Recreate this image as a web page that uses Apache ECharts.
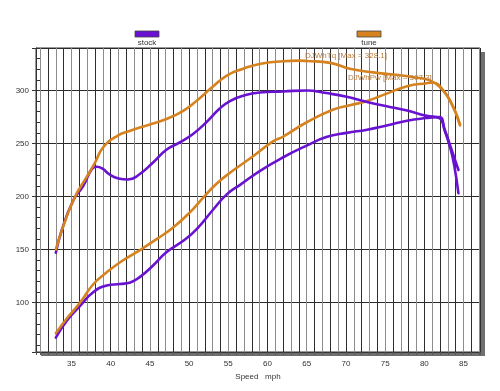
<!DOCTYPE html>
<html>
<head>
<meta charset="utf-8">
<script src="https://cdn.jsdelivr.net/npm/echarts@6/dist/echarts.min.js"></script>
<style>
html,body{margin:0;padding:0;background:#fff;}
#c{width:500px;height:391px;}
</style>
</head>
<body>
<div id="c"></div>
<script>
// ---- data ----
const legendNames = ['stock', 'tune'];
const xLabelValues = [35, 40, 45, 50, 55, 60, 65, 70, 75, 80, 85];
const yLabelValues = [100, 150, 200, 250, 300];

const stockTqSpeed = [33.0, 33.7, 35.2, 36.5, 37.6, 38.2, 39.0, 39.8, 41.0, 42.2, 43.5, 45.4, 47.1, 48.8, 50.5, 52.2, 53.9, 55.2, 56.9, 59.0, 62.0, 65.0, 67.5, 70.1, 72.7, 75.2, 77.8, 80.3, 81.9, 82.6, 83.3, 83.8, 84.35];
const stockTq      = [147, 167, 196, 210, 226, 228, 226, 221, 217, 216, 220, 232, 244, 251, 259, 270, 283, 290, 295, 298, 299, 300, 297.5, 294, 289, 285, 281, 276, 274, 262, 246, 230, 203];

const stockPwSpeed = [33.0, 34.4, 36.1, 37.8, 39.5, 41.2, 42.5, 43.7, 45.4, 47.1, 49.3, 51.0, 53.1, 54.8, 56.5, 59.0, 62.0, 65.0, 67.5, 70.1, 72.7, 75.2, 77.8, 80.3, 81.9, 82.6, 83.3, 83.8, 84.35];
const stockPw      = [67, 83, 97, 110, 116, 117.5, 119, 124, 135, 147.5, 158.5, 169.5, 188, 202, 211, 224, 237, 248, 256, 260, 263, 267, 271.5, 274, 275, 263, 248, 237, 225];

const tuneTqSpeed = [33.0, 33.9, 35.4, 36.9, 38.0, 39.0, 40.8, 42.5, 44.6, 47.1, 49.3, 51.0, 52.7, 54.8, 56.9, 59.0, 62.0, 64.0, 65.0, 68.0, 70.5, 73.5, 76.0, 78.6, 80.7, 82.0, 83.3, 84.55];
const tuneTq      = [150, 171, 199, 218, 232, 246, 257, 262, 267, 273, 281, 290.5, 301.5, 314, 320.5, 325, 327.5, 328.1, 327.8, 326, 320.5, 317, 315, 312.5, 309.5, 303, 290.5, 267];

const tunePwSpeed = [33.0, 34.4, 36.1, 37.8, 39.5, 41.2, 43.3, 45.9, 48.0, 50.1, 51.8, 53.5, 55.6, 57.8, 60.7, 62.0, 65.0, 68.4, 70.5, 72.7, 75.2, 77.8, 80.3, 81.1, 82.4, 83.7, 84.55];
const tunePw      = [71, 85, 100, 117.5, 128.5, 138, 147.5, 160, 171, 185, 199, 212, 224.5, 236, 252, 256.5, 270, 282, 286, 290, 297, 304, 306.8, 307.3, 300, 284, 268];

const annotTq = 'DJWhTq [Max = 328.1]';
const annotPw = 'DJWhPw [Max = 307.3]';
const xName = 'Speed   mph';

const X_MIN = 30.47, X_MAX = 87.1, Y_MIN = 53.4, Y_MAX = 340;

const PURPLE = '#6a12d2';
const ORANGE = '#d6821f';
const FONT = 'Liberation Sans, Arial, sans-serif';

function pairs(xs, ys) { return xs.map((x, i) => [x, ys[i]]); }

const chart = echarts.init(document.getElementById('c'), null, {renderer: 'canvas'});

function lineSeries(name, xs, ys, color) {
  return {
    type: 'line', name: name, data: pairs(xs, ys),
    xAxisIndex: 0, yAxisIndex: 0,
    smooth: 0.5, showSymbol: false, symbol: 'none',
    lineStyle: {color: color, width: 2.6, join: 'round', cap: 'round'}, itemStyle: {color: color},
    z: 5, animation: false
  };
}

const option = {
  animation: false,
  backgroundColor: '#fff',
  grid: {
    left: 36, top: 48, right: 20, bottom: 39,
    show: true, backgroundColor: '#fff', borderColor: '#333', borderWidth: 1
  },
  xAxis: [{
    type: 'value', min: X_MIN, max: X_MAX, splitNumber: 57,
    name: xName, nameLocation: 'middle', nameGap: 20,
    nameTextStyle: {fontFamily: FONT, fontSize: 8, color: '#333'},
    axisLine: {show: true, onZero: false, lineStyle: {color: '#333', width: 1}},
    axisTick: {show: true, length: 3, lineStyle: {color: '#555'}},
    axisLabel: {
      show: true, interval: 0, margin: 8, fontFamily: FONT, fontSize: 8, color: '#333',
      showMinLabel: true, showMaxLabel: true,
      formatter: v => xLabelValues.indexOf(Math.round(v * 1000) / 1000) >= 0 ? String(v) : ''
    },
    splitLine: {show: true, lineStyle: {color: ['#2e2e2e', '#8c8c8c'], width: 1}}
  }],
  yAxis: [{
    type: 'value', min: Y_MIN, max: Y_MAX, splitNumber: 6,
    axisLine: {show: true, lineStyle: {color: '#333'}},
    axisTick: {show: true, length: 4, inside: false, lineStyle: {color: '#333'}},
    axisLabel: {
      show: true, margin: 7, fontFamily: FONT, fontSize: 8, color: '#333',
      formatter: v => yLabelValues.indexOf(Math.round(v * 1000) / 1000) >= 0 ? String(v) : ''
    },
    splitLine: {show: true, lineStyle: {color: '#2a2a2a', width: 1}}
  }, {
    type: 'value', min: Y_MIN, max: Y_MAX, splitNumber: 29, position: 'left', offset: 0,
    axisLine: {show: false},
    axisTick: {show: true, length: 4, inside: true, lineStyle: {color: '#333'}},
    axisLabel: {show: false},
    splitLine: {show: false}
  }],
  series: [
    lineSeries('stockPw', stockPwSpeed, stockPw, PURPLE),
    lineSeries('tunePw', tunePwSpeed, tunePw, ORANGE),
    lineSeries('stockTq', stockTqSpeed, stockTq, PURPLE),
    lineSeries('tuneTq', tuneTqSpeed, tuneTq, ORANGE)
  ],
  graphic: [
    // frame shadow
    {type: 'rect', z: -10, shape: {x: 41, y: 52, width: 444, height: 304}, style: {fill: '#6f6f6f'}},
    // legend
    {type: 'rect', shape: {x: 135, y: 31, width: 24, height: 6}, style: {fill: PURPLE, stroke: '#444', lineWidth: 0.8}},
    {type: 'text', x: 147, y: 39, style: {text: legendNames[0], fill: '#333', font: '8px ' + FONT, textAlign: 'center', textVerticalAlign: 'top'}},
    {type: 'rect', shape: {x: 357, y: 31, width: 24, height: 6}, style: {fill: ORANGE, stroke: '#444', lineWidth: 0.8}},
    {type: 'text', x: 369, y: 39, style: {text: legendNames[1], fill: '#333', font: '8px ' + FONT, textAlign: 'center', textVerticalAlign: 'top'}},
    // annotations
    {type: 'text', x: 305, y: 56, z: 20, style: {text: annotTq, fill: '#b87a3a', font: '8px ' + FONT, textAlign: 'left', textVerticalAlign: 'middle'}},
    {type: 'text', x: 348, y: 78, z: 20, style: {text: annotPw, fill: '#b87a3a', font: '8px ' + FONT, textAlign: 'left', textVerticalAlign: 'middle'}}
  ]
};
chart.setOption(option);
</script>
</body>
</html>
